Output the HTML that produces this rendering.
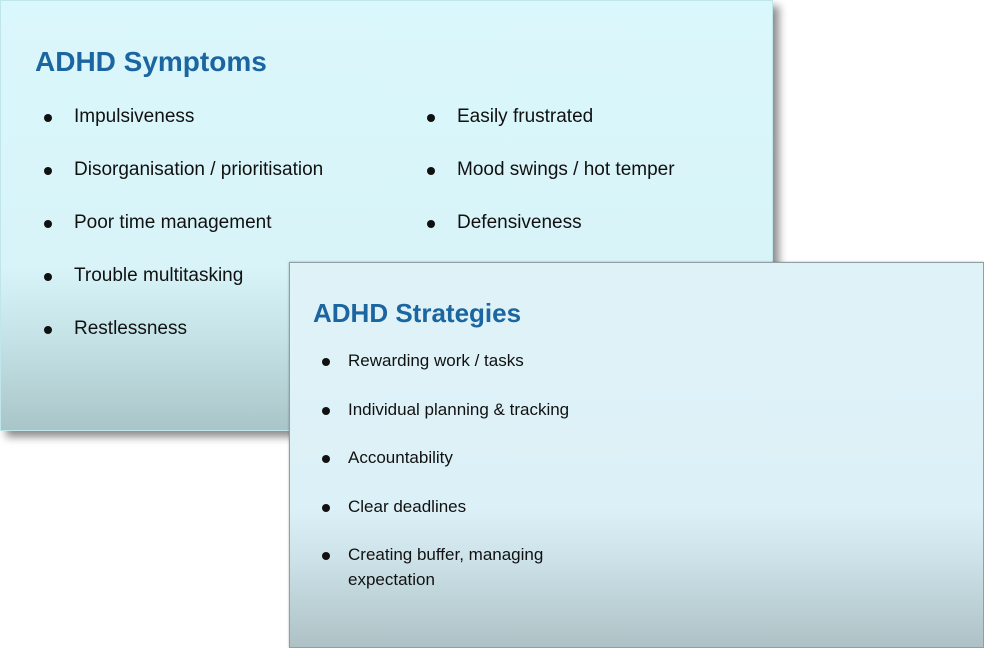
<!DOCTYPE html>
<html><head><meta charset="utf-8">
<style>
html,body{margin:0;padding:0;width:984px;height:648px;overflow:hidden;background:#fff;font-family:"Liberation Sans",sans-serif;}
.card{position:absolute;box-sizing:border-box;}
#c1{left:0;top:0;width:773px;height:431px;background:linear-gradient(to bottom,#daf7fb 0px,#d8f4f8 265px,#c4e2e6 340px,#a9c4c7 431px);box-shadow:6px 6px 8px rgba(0,0,0,0.45);border:1px solid #bfe6ea;}
#c2{left:289px;top:262px;width:695px;height:386px;background:linear-gradient(to bottom,#dff2f8 0px,#dcf1f7 245px,#cde3e9 295px,#adc1c5 386px);border:1px solid #8fa0a4;box-shadow:0 0 2px rgba(0,0,0,0.3);}
.title{position:absolute;color:#1b65a0;font-weight:bold;white-space:nowrap;}
.item{position:absolute;color:#111;white-space:nowrap;}
.dot{position:absolute;width:8px;height:8px;border-radius:50%;background:#111;}
</style></head><body>
<div class="card" id="c1">
  <div class="title" style="left:34px;top:45px;font-size:28px;">ADHD Symptoms</div>
</div>
<div class="card" id="c2">
  <div class="title" style="left:23px;top:35px;font-size:26px;">ADHD Strategies</div>
</div>
<script>
const symLeft=["Impulsiveness","Disorganisation / prioritisation","Poor time management","Trouble multitasking","Restlessness"];
const symRight=["Easily frustrated","Mood swings / hot temper","Defensiveness"];
const strategies=["Rewarding work / tasks","Individual planning & tracking","Accountability","Clear deadlines","Creating buffer, managing"];
function add(parent,text,dx,tx,cy,fs,name){
  const d=document.createElement('div');d.className='dot';
  
  
  d.style.left=dx+'px';d.style.top=(cy-4)+'px';parent.appendChild(d);
  const t=document.createElement('div');t.className='item';
  
  
  t.style.left=tx+'px';t.style.top=(cy-fs*0.62)+'px';t.style.fontSize=fs+'px';t.textContent=text;parent.appendChild(t);
}
const c1=document.getElementById('c1'),c2=document.getElementById('c2');
symLeft.forEach((s,i)=>add(c1,s,43,73,117+i*53,19,'symptom-item'));
symRight.forEach((s,i)=>add(c1,s,426,456,117+i*53,19,'symptom-item'));
strategies.forEach((s,i)=>add(c2,s,32,58,99+i*48.5,17,'strategy-item'));
const t=document.createElement('div');t.className='item';


t.style.left='58px';t.style.top=(317-10.5)+'px';t.style.fontSize='17px';t.textContent='expectation';c2.appendChild(t);
</script>
</body></html>
